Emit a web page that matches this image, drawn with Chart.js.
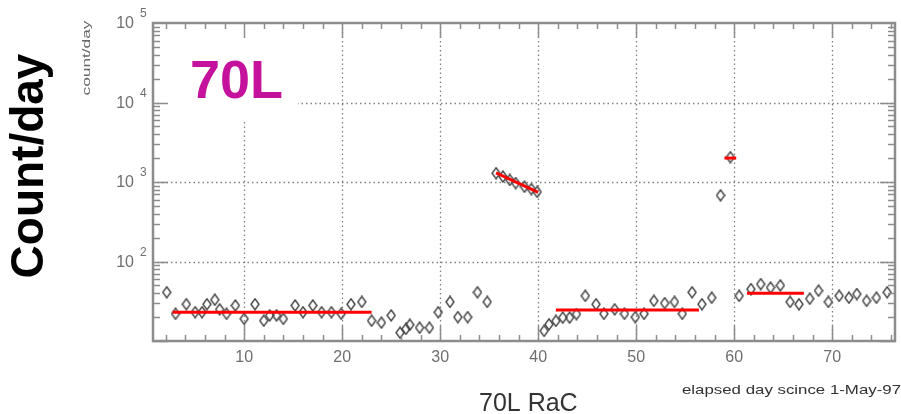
<!DOCTYPE html>
<html>
<head>
<meta charset="utf-8">
<title>70L RaC</title>
<style>
  html, body { margin: 0; padding: 0; background: #fff; }
  #wrap { position: relative; width: 901px; height: 414px; }
</style>
</head>
<body>
<div id="wrap"><canvas id="myChart" width="901" height="414"></canvas></div>
<script src="https://cdn.jsdelivr.net/npm/chart.js@4/dist/chart.umd.min.js"></script>
<script>
// measured points (elapsed day, count/day)
var days = [2.1, 3.0, 4.1, 5.0, 5.7, 6.2, 7.0, 7.5, 8.2, 9.1, 10.0, 11.1, 12.0, 12.6, 13.3, 14.0,
    15.2, 16.0, 17.0, 17.9, 18.9, 19.9, 20.9, 22.0, 23.0, 24.0, 25.0, 25.9, 26.5, 26.9, 27.9, 28.9,
    29.8, 31.0, 31.8, 32.8, 33.8, 34.8,
    35.7, 36.4, 37.1, 37.7, 38.6, 39.3, 39.9,
    40.6, 41.1, 41.8, 42.5, 43.2, 43.9, 44.8, 45.9, 46.7, 47.8, 48.8, 49.9, 50.8, 51.8, 52.9, 53.9,
    54.7, 55.7, 56.7, 57.7,
    58.6, 59.6,
    60.5, 61.7, 62.7, 63.7, 64.7, 65.7, 66.6, 67.7, 68.6, 69.6, 70.7, 71.7, 72.5, 73.5, 74.5, 75.6];
var counts = [41, 22, 29, 23, 23, 29, 33, 25, 22, 28, 19, 29, 18, 21, 21, 19,
    28, 23, 28, 23, 23, 22, 29, 31, 18, 17, 21, 12.7, 14.2, 16, 14.7, 14.7,
    23, 31, 20, 20, 41, 31,
    1290, 1170, 1060, 970, 870, 815, 750,
    13.4, 16.2, 17.9, 19.7, 19.7, 21.8, 37, 29, 22, 25, 22, 20, 22, 32, 30, 31,
    22, 41, 29, 35,
    680, 2050,
    37, 45, 52, 47, 50, 31, 29, 34, 43, 31, 37, 35, 39, 32, 35, 41];

// red fitted segments
var fitStartDay = [2.7, 35.7, 41.8, 59.0, 61.3];
var fitEndDay = [23.0, 40.0, 56.4, 60.2, 67.1];
var fitStartCount = [23, 1300, 24.5, 2000, 40];
var fitEndCount = [23, 740, 24.5, 2000, 40];

// axis ticks
var xTicks = [10, 20, 30, 40, 50, 60, 70];
var yExponents = [2, 3, 4, 5];

// hollow diamond marker
var diamond = document.createElement('canvas');
diamond.width = 10;
diamond.height = 13;
(function() {
    var d = diamond.getContext('2d');
    d.strokeStyle = '#444';
    d.lineWidth = 1.4;
    d.beginPath();
    d.moveTo(5, 1);
    d.lineTo(9, 6.5);
    d.lineTo(5, 12);
    d.lineTo(1, 6.5);
    d.closePath();
    d.stroke();
})();

var points = days.map(function(d, i) { return { x: d, y: counts[i] }; });

var datasets = [];
for (var i = 0; i < fitStartDay.length; i++) {
    datasets.push({
        data: [{ x: fitStartDay[i], y: fitStartCount[i] }, { x: fitEndDay[i], y: fitEndCount[i] }],
        showLine: true,
        borderColor: '#ff0000',
        borderWidth: 3,
        pointRadius: 0,
        order: 0
    });
}
datasets.push({
    data: points,
    pointStyle: diamond,
    pointRadius: 5,
    showLine: false,
    order: 1
});

function line(c, x1, y1, x2, y2) {
    c.beginPath();
    c.moveTo(x1, y1);
    c.lineTo(x2, y2);
    c.stroke();
}

var frameColor = '#8c8c8c';

var chartFrame = {
    id: 'chartFrame',
    beforeDatasetsDraw: function(chart) {
        var c = chart.ctx, a = chart.chartArea, xs = chart.scales.x, ys = chart.scales.y;
        c.save();
        c.strokeStyle = '#808080';
        c.lineWidth = 1.3;
        c.setLineDash([1.5, 3]);
        xTicks.forEach(function(v) {
            var px = Math.round(xs.getPixelForValue(v)) + 0.5;
            line(c, px, a.top, px, a.bottom);
        });
        yExponents.forEach(function(e) {
            var py = Math.round(ys.getPixelForValue(Math.pow(10, e))) + 0.5;
            if (py > a.top + 2) line(c, a.left, py, a.right, py);
        });
        c.setLineDash([]);
        // label box
        c.fillStyle = '#fff';
        c.fillRect(a.left + 8, a.top + 3, 137, 94);
        c.restore();
    },
    afterDatasetsDraw: function(chart) {
        var c = chart.ctx, a = chart.chartArea, xs = chart.scales.x, ys = chart.scales.y;
        c.save();
        c.strokeStyle = frameColor;
        c.lineWidth = 1.5;
        // x ticks, inside, bottom and top
        for (var d = 2; d <= 76; d += 2) {
            var px = Math.round(xs.getPixelForValue(d)) + 0.5;
            var len = (d % 10 === 0) ? 15 : 6;
            line(c, px, a.bottom, px, a.bottom - len);
            line(c, px, a.top, px, a.top + len);
        }
        // y log ticks, inside, left and right
        for (var k = 1; k <= 4; k++) {
            for (var m = 1; m <= 9; m++) {
                var py = Math.round(ys.getPixelForValue(m * Math.pow(10, k))) + 0.5;
                var l = (m === 1) ? 15 : 7;
                line(c, a.left, py, a.left + l, py);
                line(c, a.right, py, a.right - l, py);
            }
        }
        // frame
        c.lineWidth = 2.5;
        c.strokeRect(a.left, a.top, a.right - a.left, a.bottom - a.top);

        // tick labels
        c.fillStyle = '#6e6e6e';
        c.font = '16px "Liberation Sans", Arial, sans-serif';
        c.textAlign = 'center';
        c.textBaseline = 'middle';
        xTicks.forEach(function(v) {
            c.fillText(String(v), xs.getPixelForValue(v), a.bottom + 17);
        });
        yExponents.forEach(function(e) {
            var py = ys.getPixelForValue(Math.pow(10, e));
            c.font = '16px "Liberation Sans", Arial, sans-serif';
            c.textAlign = 'right';
            c.fillText('10', a.left - 19, py + 1);
            c.font = '12px "Liberation Sans", Arial, sans-serif';
            c.textAlign = 'left';
            c.fillText(String(e), a.left - 13, py - 9);
        });

        // big magenta label
        c.fillStyle = '#c4129c';
        c.font = 'bold 54px "Liberation Sans", Arial, sans-serif';
        c.textAlign = 'left';
        c.textBaseline = 'alphabetic';
        c.fillText('70L', 190, 98);

        // axis titles
        c.fillStyle = '#000';
        c.font = 'bold 46px "Liberation Sans", Arial, sans-serif';
        c.textAlign = 'center';
        c.save();
        c.translate(43, 166);
        c.rotate(-Math.PI / 2);
        c.fillText('Count/day', 0, 0);
        c.restore();

        c.fillStyle = '#666';
        c.font = '11px "Liberation Sans", Arial, sans-serif';
        c.save();
        c.translate(90, 58);
        c.rotate(-Math.PI / 2);
        var w = c.measureText('count/day').width;
        c.scale(75 / w, 1);
        c.fillText('count/day', 0, 0);
        c.restore();

        c.fillStyle = '#333';
        c.font = '25px "Liberation Sans", Arial, sans-serif';
        c.textAlign = 'left';
        c.fillText('70L RaC', 479, 411);

        c.font = '13px "Liberation Sans", Arial, sans-serif';
        c.textBaseline = 'middle';
        c.save();
        c.translate(682, 390);
        var w2 = c.measureText('elapsed day scince 1-May-97').width;
        c.scale(219 / w2, 1);
        c.fillText('elapsed day scince 1-May-97', 0, 0);
        c.restore();

        c.restore();
    }
};

var ctx = document.getElementById('myChart').getContext('2d');
var myChart = new Chart(ctx, {
    type: 'scatter',
    data: { datasets: datasets },
    options: {
        responsive: false,
        animation: false,
        layout: {
            padding: { left: 153, right: 5, top: 23, bottom: 73 }
        },
        scales: {
            x: { type: 'linear', min: 0.7, max: 76.4, display: false },
            y: { type: 'logarithmic', min: 10, max: 100000, display: false }
        },
        plugins: {
            legend: { display: false },
            tooltip: { enabled: false }
        }
    },
    plugins: [chartFrame]
});
</script>
</body>
</html>
